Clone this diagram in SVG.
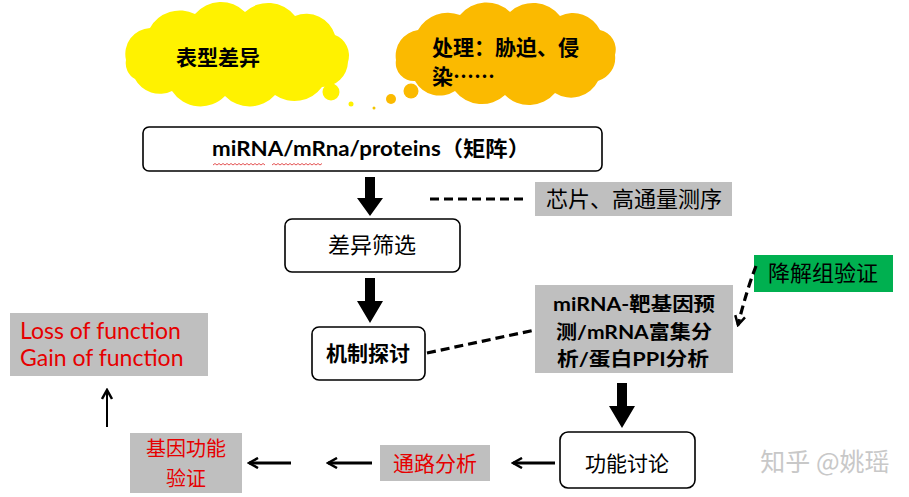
<svg xmlns="http://www.w3.org/2000/svg" width="909" height="497" viewBox="0 0 909 497">
<style>
.box{fill:#fff;stroke:#000;stroke-width:1.6}
.gray{fill:#BFBFBF}
.cn{font-family:"Noto Sans CJK SC","Noto Sans",sans-serif;text-anchor:middle;fill:#000}
.b{font-weight:bold}
.red{fill:#E60000}
.lat{font-family:Lato,"Noto Sans CJK SC",sans-serif}
.dash{fill:none;stroke:#000;stroke-width:3.2;stroke-dasharray:9 5}
.thin{fill:none;stroke:#000;stroke-width:3}
.fat{fill:#000}
</style>
<defs>
<marker id="chev" viewBox="0 0 12 12" refX="10" refY="6" markerWidth="12" markerHeight="12" markerUnits="userSpaceOnUse" orient="auto">
<path d="M1,1 L10,6 L1,11" fill="none" stroke="#000" stroke-width="2.5"/>
</marker>
</defs>
<rect width="909" height="497" fill="#fff"/>

<g id="cloud-phenotype">
<path d="M126,60 A26,26 0 0 1 150,28 A34,34 0 0 1 195,14 A34,34 0 0 1 245,12 A34,34 0 0 1 295,16 A30,30 0 0 1 335,35 A22,22 0 0 1 348,62 A26,26 0 0 1 322,87 A34,34 0 0 1 275,95 A34,34 0 0 1 225,96 A34,34 0 0 1 172,91 A28,28 0 0 1 135,79 A18,18 0 0 1 126,60 Z" fill="#FFF200"/>
<text class="cn b" x="218" y="65" font-size="21">表型差异</text>
</g>
<g id="bubbles">
<circle cx="331" cy="92" r="8.5" fill="#FFF200"/>
<circle cx="351" cy="104" r="2.5" fill="#FFF200"/>
<circle cx="374" cy="108" r="1.5" fill="#F2C500"/>
<circle cx="391" cy="99" r="5" fill="#FBBA00"/>
<circle cx="411" cy="91" r="7.5" fill="#FBBA00"/>
</g>
<g id="cloud-treatment">
<path d="M396,60 A26,26 0 0 1 418,30 A34,34 0 0 1 460,15 A34,34 0 0 1 510,12 A34,34 0 0 1 560,16 A30,30 0 0 1 600,30 A20,20 0 0 1 615,55 A24,24 0 0 1 598,81 A30,30 0 0 1 555,93 A34,34 0 0 1 505,95 A34,34 0 0 1 455,91 A28,28 0 0 1 415,81 A18,18 0 0 1 396,60 Z" fill="#FBBA00"/>
<text class="cn b" x="432" y="55" font-size="21" style="text-anchor:start">处理：胁迫、侵</text>
<text class="cn b" x="432" y="84" font-size="21" style="text-anchor:start">染……</text>
</g>

<g id="node-matrix">
<rect class="box" x="143" y="127" width="459" height="44" rx="6"/>
<text class="lat b" x="212" y="156" font-size="21" textLength="318" lengthAdjust="spacingAndGlyphs">miRNA/mRna/proteins（矩阵）</text>
<path d="M213,165 l2,-1.5 l2,1.5 l2,-1.5 l2,1.5 l2,-1.5 l2,1.5 l2,-1.5 l2,1.5 l2,-1.5 l2,1.5 l2,-1.5 l2,1.5 l2,-1.5 l2,1.5 l2,-1.5 l2,1.5 l2,-1.5 l2,1.5 l2,-1.5 l2,1.5 l2,-1.5 l2,1.5 l2,-1.5 l2,1.5 l2,-1.5 l2,1.5 M272,165 l2,-1.5 l2,1.5 l2,-1.5 l2,1.5 l2,-1.5 l2,1.5 l2,-1.5 l2,1.5 l2,-1.5 l2,1.5 l2,-1.5 l2,1.5 l2,-1.5 l2,1.5 l2,-1.5 l2,1.5 l2,-1.5 l2,1.5 l2,-1.5 l2,1.5 l2,-1.5 l2,1.5 l2,-1.5 l2,1.5 l2,-1.5" fill="none" stroke="#E04040" stroke-width="0.9"/>
</g>

<g id="node-chip">
<rect class="gray" x="535" y="182" width="197" height="34"/>
<text class="cn" x="634" y="207" font-size="22">芯片、高通量测序</text>
</g>

<g id="node-diff">
<rect class="box" x="285" y="219" width="175" height="53" rx="7"/>
<text class="cn" x="372" y="253" font-size="22">差异筛选</text>
</g>

<g id="node-mech">
<rect class="box" x="312" y="327" width="113" height="53" rx="7"/>
<text class="cn b" x="368" y="361" font-size="21">机制探讨</text>
</g>

<g id="node-predict">
<rect class="gray" x="535" y="285" width="198" height="88"/>
<text class="lat b" x="553" y="311" font-size="19" textLength="162" lengthAdjust="spacingAndGlyphs">miRNA-靶基因预</text>
<text class="lat b" x="556" y="339" font-size="19" textLength="156" lengthAdjust="spacingAndGlyphs">测/mRNA富集分</text>
<text class="lat b" x="557" y="366" font-size="19" textLength="152" lengthAdjust="spacingAndGlyphs">析/蛋白PPI分析</text>
</g>

<g id="node-degradome">
<rect x="754" y="255" width="139" height="37" fill="#00B050"/>
<text class="cn" x="823" y="281" font-size="22">降解组验证</text>
</g>

<g id="node-func">
<rect class="box" x="560" y="432" width="135" height="56" rx="8"/>
<text class="cn" x="627" y="471" font-size="21">功能讨论</text>
</g>

<g id="node-pathway">
<rect class="gray" x="380" y="445" width="110" height="36"/>
<text class="cn red" x="435" y="471" font-size="21">通路分析</text>
</g>

<g id="node-verify">
<rect class="gray" x="130" y="433" width="112" height="60"/>
<text class="cn red" x="186" y="456" font-size="20">基因功能</text>
<text class="cn red" x="186" y="486" font-size="20">验证</text>
</g>

<g id="node-lossgain">
<rect class="gray" x="10" y="313" width="198" height="63"/>
<text class="lat red" x="20" y="339" font-size="23">Loss of function</text>
<text class="lat red" x="20" y="366" font-size="23">Gain of function</text>
</g>

<g id="connectors">
<polygon class="fat" points="365,177 375,177 375,198 383,198 370,216 357,198 365,198"/>
<polygon class="fat" points="365,278 375,278 375,301 383,301 370,323 357,301 365,301"/>
<polygon class="fat" points="617,383 627,383 627,406 635,406 622,428 609,406 617,406"/>
<path class="dash" d="M430,199 H527"/>
<path class="dash" d="M427,353 L535,330"/>
<path class="dash" d="M756,266 Q746,292 738,325" marker-end="url(#chev)"/>
<path class="thin" d="M555,463 H513" marker-end="url(#chev)"/>
<path class="thin" d="M372,463 H328" marker-end="url(#chev)"/>
<path class="thin" d="M291,463 H249" marker-end="url(#chev)"/>
<path fill="none" stroke="#000" stroke-width="2" d="M107,427 V390" marker-end="url(#chev)"/>
</g>

<text x="825" y="471" font-family="'Noto Sans CJK SC',sans-serif" font-size="25" fill="#C8C8C8" text-anchor="middle">知乎 @姚瑶</text>
</svg>
